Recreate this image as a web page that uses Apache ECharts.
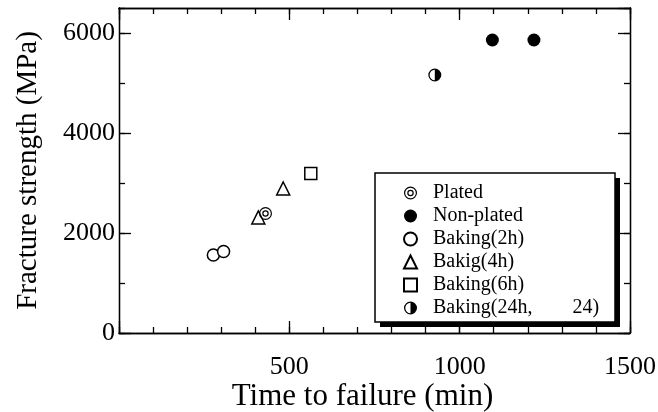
<!DOCTYPE html>
<html>
<head>
<meta charset="utf-8">
<script src="https://cdn.jsdelivr.net/npm/echarts@6/dist/echarts.min.js"></script>
<style>
  html, body { margin: 0; padding: 0; background: #fff; }
  #chart { width: 658px; height: 412px; }
</style>
</head>
<body>
<div id="chart"></div>
<script>
// data: [time to failure (min), fracture strength (MPa)]
const plated = [[430, 2390]];
const nonPlated = [[1096, 5860], [1218, 5860]];
const baking2h = [[277, 1560], [307, 1630]];
const baking4h = [[409, 2310], [482, 2890]];
const baking6h = [[563, 3190]];
const baking24h = [[927, 5160]];

const seriesNames = ['Plated', 'Non-plated', 'Baking(2h)', 'Bakig(4h)', 'Baking(6h)', 'Baking(24h,        24)'];

const xMin = 0, xMax = 1500, xMajor = 500, xMinor = 100;
const yMin = 0, yMax = 6500, yMajor = 2000, yMinor = 1000;

const FONT = "'Liberation Serif', 'DejaVu Serif', serif";

// concentric rings (double circle) and half filled circle
const ringsPath = 'path://M0,-6A6,6 0 1,1 0,6A6,6 0 1,1 0,-6Z M0,-4.9A4.9,4.9 0 1,0 0,4.9A4.9,4.9 0 1,0 0,-4.9Z' +
  'M0,-3A3,3 0 1,1 0,3A3,3 0 1,1 0,-3Z M0,-1.9A1.9,1.9 0 1,0 0,1.9A1.9,1.9 0 1,0 0,-1.9Z';
const halfPath = 'path://M0,-6A6,6 0 1,1 0,6A6,6 0 1,1 0,-6Z M0,-4.8A4.8,4.8 0 1,0 0,4.8A4.8,4.8 0 1,0 0,-4.8Z' +
  'M0,-4.8A4.8,4.8 0 0,1 0,4.8Z';

function axisX(interval, pos, major) {
  return {
    type: 'value', min: xMin, max: xMax, interval: interval, position: pos,
    axisLine: { show: true, onZero: false, lineStyle: { color: '#000', width: 1.3 } },
    axisTick: { show: true, inside: true, length: major ? 12 : 6, lineStyle: { color: '#000', width: 1.3 } },
    axisLabel: {
      show: major && pos === 'bottom', margin: 21, color: '#000', fontFamily: FONT, fontSize: 26,
      formatter: v => (v === 0 ? '' : String(v))
    },
    splitLine: { show: false },
    name: major && pos === 'bottom' ? 'Time to failure (min)' : '',
    nameLocation: 'middle', nameGap: 48, nameMoveOverlap: false,
    nameTextStyle: { color: '#000', fontFamily: FONT, fontSize: 31, padding: [0, 24, 0, 0] }
  };
}

function axisY(interval, pos, major) {
  return {
    type: 'value', min: yMin, max: yMax, interval: interval, position: pos,
    axisLine: { show: true, onZero: false, lineStyle: { color: '#000', width: 1.3 } },
    axisTick: { show: true, inside: true, length: major ? 12 : 6, lineStyle: { color: '#000', width: 1.3 } },
    axisLabel: {
      show: major && pos === 'left', margin: 4, color: '#000', fontFamily: FONT, fontSize: 26,
      showMaxLabel: false,
      formatter: v => (v % yMajor === 0 ? String(v) : '')
    },
    splitLine: { show: false },
    name: major && pos === 'left' ? 'Fracture strength (MPa)' : '',
    nameLocation: 'middle', nameGap: 76, nameMoveOverlap: false,
    nameTextStyle: { color: '#000', fontFamily: FONT, fontSize: 29 }
  };
}

function scatter(name, data, symbol, size, filled) {
  return {
    name: name, type: 'scatter', data: data, symbol: symbol, symbolSize: size,
    xAxisIndex: 0, yAxisIndex: 0,
    itemStyle: filled
      ? { color: '#000', borderWidth: 0, opacity: 1 }
      : { color: '#fff', borderColor: '#000', borderWidth: 1.5, opacity: 1 },
    emphasis: { disabled: true }
  };
}

const chart = echarts.init(document.getElementById('chart'));
chart.setOption({
  animation: false,
  backgroundColor: '#fff',
  grid: { left: 119, right: 28, top: 8, bottom: 79, containLabel: false, outerBoundsMode: 'none' },
  xAxis: [
    axisX(xMajor, 'bottom', true),
    axisX(xMinor, 'bottom', false),
    axisX(xMajor, 'top', true),
    axisX(xMinor, 'top', false)
  ],
  yAxis: [
    axisY(yMajor, 'left', true),
    axisY(yMinor, 'left', false),
    axisY(yMajor, 'right', true),
    axisY(yMinor, 'right', false)
  ],
  // legend frame with its hard drop shadow
  graphic: [
    { type: 'rect', z: 3, shape: { x: 380, y: 178, width: 240, height: 149 }, style: { fill: '#000' } },
    { type: 'rect', z: 3, shape: { x: 375, y: 173, width: 240, height: 149 }, style: { fill: '#fff', stroke: '#000', lineWidth: 1.5 } }
  ],
  legend: {
    orient: 'vertical',
    left: 375, top: 173, z: 5,
    data: seriesNames,
    itemWidth: 13, itemHeight: 13, itemGap: 3,
    padding: [10, 18, 6, 28],
    textStyle: { color: '#000', fontFamily: FONT, fontSize: 20, lineHeight: 20, padding: [0, 0, 0, 11] }
  },
  series: [
    scatter(seriesNames[2], baking2h, 'circle', 12, false),
    scatter(seriesNames[3], baking4h, 'triangle', 13, false),
    scatter(seriesNames[4], baking6h, 'rect', 12, false),
    scatter(seriesNames[0], plated, ringsPath, 13, true),
    scatter(seriesNames[1], nonPlated, 'circle', 13, true),
    scatter(seriesNames[5], baking24h, halfPath, 13, true)
  ]
});
</script>
</body>
</html>
